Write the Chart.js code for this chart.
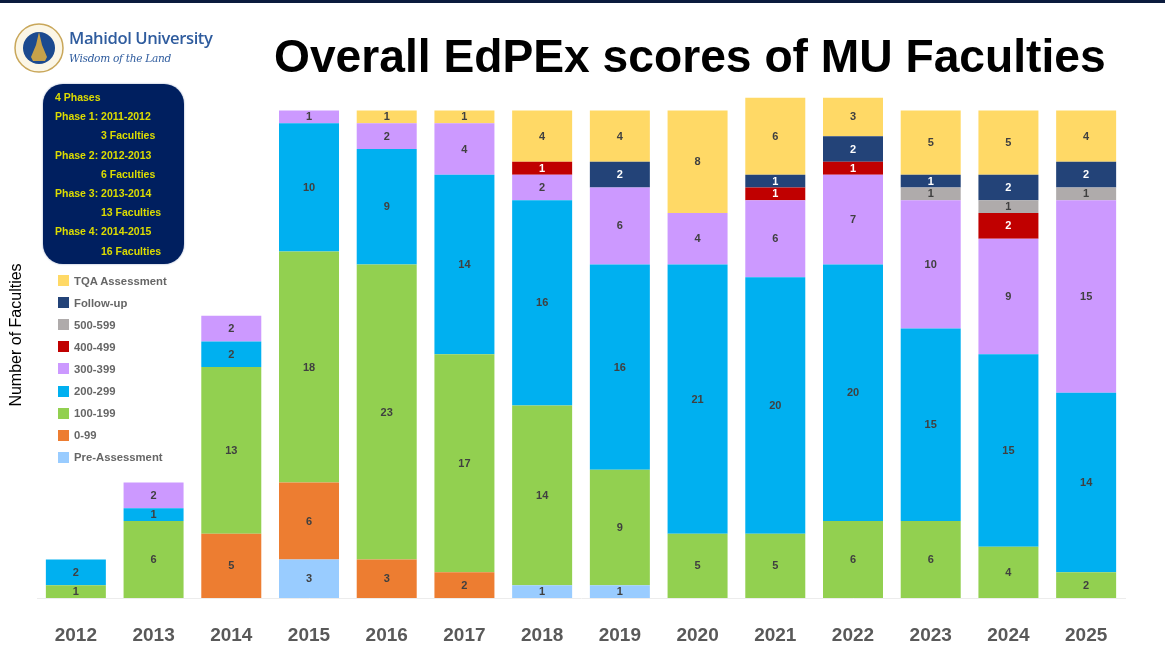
<!DOCTYPE html>
<html><head><meta charset="utf-8">
<script src="https://cdn.jsdelivr.net/npm/chart.js@4"></script>
<style>
html,body{margin:0;padding:0;background:#fff;overflow:hidden}
#wrap{position:relative;width:1165px;height:666px;font-family:"Liberation Sans",Arial,sans-serif;filter:blur(.6px)}
#topbar{position:absolute;left:0;top:0;width:1165px;height:3px;background:#0b1b3d}
canvas{position:absolute;left:0;top:0}
#title{position:absolute;left:274px;top:30px;width:832px;font-weight:700;font-size:46.2px;line-height:52px;color:#000;white-space:nowrap}
#logo{position:absolute;left:14px;top:23px}
#mu{position:absolute;left:69px;top:28px;font-size:16.6px;line-height:20px;color:#2f5c9e;font-family:"Open Sans",sans-serif;font-weight:600;letter-spacing:-.4px;white-space:nowrap}
#wis{position:absolute;left:69px;top:51px;font-size:10.6px;line-height:14px;color:#2f5c9e;font-style:italic;font-family:"DejaVu Serif",serif;white-space:nowrap;letter-spacing:-.3px}
#phase{position:absolute;left:43px;top:84px;width:141px;height:180px;background:#001f5f;border-radius:20px;box-shadow:0 0 2px #8899bb}
#phase div{position:absolute;font-weight:700;font-size:10.5px;line-height:12px;color:#dcdc00;white-space:nowrap}
#legend{position:absolute;left:58px;top:270px}
.li{position:absolute;left:0;display:flex;align-items:center;white-space:nowrap;font-weight:700;font-size:11.3px;color:#666}
.li i{display:block;width:11px;height:11px;margin-right:5px}
</style></head><body>
<div id="wrap">
<canvas id="c" width="1165" height="666"></canvas>
<div id="topbar"></div>
<svg id="logo" width="50" height="50" viewBox="0 0 50 50">
<circle cx="25" cy="25" r="24" fill="#fbf6e6" stroke="#c9a75a" stroke-width="1.5"/>
<circle cx="25" cy="25" r="16" fill="#1c4a8f"/>
<path d="M25 9 L28 22 L33 34 L31 38 H19 L17 34 L22 22 Z" fill="#c7a14a"/>
</svg>
<div id="mu">Mahidol University</div>
<div id="wis">Wisdom of the Land</div>
<div id="title">Overall EdPEx scores of MU Faculties</div>
<div id="phase"></div>
<div id="legend"></div>
</div>
<script>
const years=['2012','2013','2014','2015','2016','2017','2018','2019','2020','2021','2022','2023','2024','2025'];
const preAssessment=[0,0,0,3,0,0,1,1,0,0,0,0,0,0];
const score0to99=[0,0,5,6,3,2,0,0,0,0,0,0,0,0];
const score100to199=[1,6,13,18,23,17,14,9,5,5,6,6,4,2];
const score200to299=[2,1,2,10,9,14,16,16,21,20,20,15,15,14];
const score300to399=[0,2,2,1,2,4,2,6,4,6,7,10,9,15];
const score400to499=[0,0,0,0,0,0,1,0,0,1,1,0,2,0];
const score500to599=[0,0,0,0,0,0,0,0,0,0,0,1,1,1];
const followUp=[0,0,0,0,0,0,0,2,0,1,2,1,2,2];
const tqaAssessment=[0,0,0,0,1,1,4,4,8,6,3,5,5,4];
const phaseLines=['4 Phases','Phase 1: 2011-2012','3 Faculties','Phase 2: 2012-2013','6 Faculties','Phase 3: 2013-2014','13 Faculties','Phase 4: 2014-2015','16 Faculties'];

const series=[
 ['Pre-Assessment',preAssessment,'#99ccff','#404040'],
 ['0-99',score0to99,'#ed7d31','#404040'],
 ['100-199',score100to199,'#92d050','#404040'],
 ['200-299',score200to299,'#00b0f0','#404040'],
 ['300-399',score300to399,'#cc99ff','#404040'],
 ['400-499',score400to499,'#c00000','#ffffff'],
 ['500-599',score500to599,'#afabab','#404040'],
 ['Follow-up',followUp,'#234378','#ffffff'],
 ['TQA Assessment',tqaAssessment,'#ffd966','#404040']
];

const phaseBox=document.getElementById('phase');
phaseLines.forEach((t,i)=>{
  const d=document.createElement('div');
  d.textContent=t;
  d.style.top=(7+i*19.2)+'px';
  d.style.left=(i%2===0&&i>0?58:12)+'px';
  phaseBox.appendChild(d);
});
const lg=document.getElementById('legend');
series.slice().reverse().forEach((s,i)=>{
  const d=document.createElement('div');
  d.className='li';
  d.style.top=(4.5+i*22.1)+'px';
  d.innerHTML='<i style="background:'+s[2]+'"></i><span>'+s[0]+'</span>';
  lg.appendChild(d);
});

const valueLabels={
 id:'valueLabels',
 afterDatasetsDraw(chart){
  const ctx=chart.ctx;
  ctx.save();
  ctx.font='700 11px "Liberation Sans",Arial,sans-serif';
  ctx.textAlign='center';ctx.textBaseline='middle';
  chart.data.datasets.forEach((ds,di)=>{
    chart.getDatasetMeta(di).data.forEach((bar,i)=>{
      const v=ds.data[i];
      if(!v)return;
      ctx.fillStyle=series[di][3];
      ctx.fillText(String(v),bar.x,(bar.y+bar.base)/2+0.5);
    });
  });
  ctx.restore();
 }
};

new Chart(document.getElementById('c'),{
 type:'bar',
 data:{labels:years,datasets:series.map(s=>({label:s[0],data:s[1],backgroundColor:s[2],borderWidth:0}))},
 options:{
  responsive:false,animation:false,
  layout:{padding:{left:0,right:40,top:72,bottom:0}},
  datasets:{bar:{categoryPercentage:.772,barPercentage:1}},
  plugins:{legend:{display:false},title:{display:false},tooltip:{enabled:false}},
  scales:{
   x:{stacked:true,grid:{display:false},border:{color:'#ececec'},
      afterFit(s){s.height=68},
      ticks:{color:'#595959',font:{family:'"Liberation Sans",Arial,sans-serif',size:19,weight:'700'},padding:18,maxRotation:0}},
   y:{stacked:true,min:0,max:41,grid:{display:false},border:{display:false},
      afterFit(s){s.width=37},
      ticks:{display:false},
      title:{display:true,text:'Number of Faculties',color:'#000',font:{family:'"Liberation Sans",Arial,sans-serif',size:16,weight:'400'},padding:{top:7,bottom:0}}}
  }
 },
 plugins:[valueLabels]
});
</script>
</body></html>
